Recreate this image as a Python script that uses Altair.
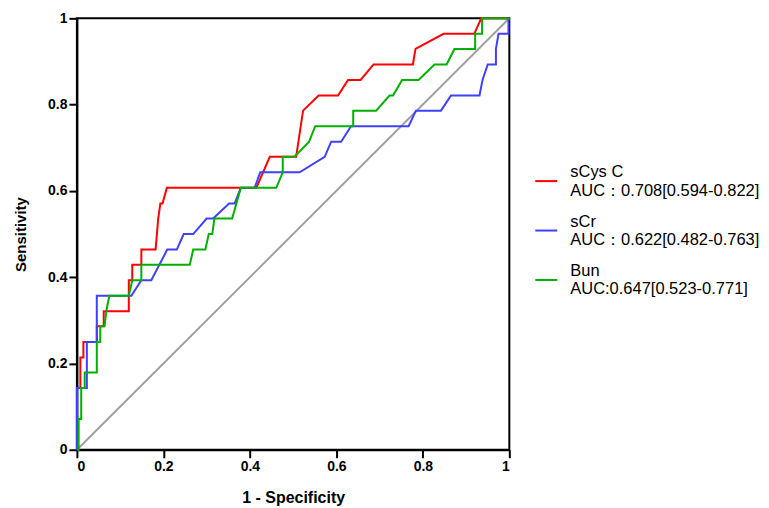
import altair as alt
import pandas as pd

names = ["sCys C", "sCr", "Bun"]
aucs = ["AUC\uff1a0.708[0.594-0.822]", "AUC\uff1a0.622[0.482-0.763]", "AUC:0.647[0.523-0.771]"]
colors = ["#FF0000", "#4040FF", "#00B000"]

red_fpr = [0, 0, 0.008, 0.008, 0.015, 0.015, 0.046, 0.046, 0.062, 0.062, 0.12, 0.12, 0.128, 0.128,
           0.149, 0.149, 0.182, 0.188, 0.193, 0.198, 0.208, 0.415, 0.446, 0.507, 0.523, 0.559, 0.604,
           0.627, 0.656, 0.686, 0.777, 0.783, 0.848, 0.919, 0.935, 1.0]
red_tpr = [0, 0.143, 0.143, 0.214, 0.214, 0.25, 0.25, 0.286, 0.286, 0.321, 0.321, 0.393, 0.393, 0.429,
           0.429, 0.464, 0.464, 0.536, 0.571, 0.571, 0.607, 0.607, 0.679, 0.679, 0.786, 0.821, 0.821,
           0.857, 0.857, 0.893, 0.893, 0.929, 0.964, 0.964, 1.0, 1.0]

blue_fpr = [0, 0, 0.023, 0.023, 0.046, 0.046, 0.126, 0.149, 0.172, 0.209, 0.231, 0.247, 0.269, 0.3,
            0.315, 0.352, 0.365, 0.379, 0.411, 0.424, 0.515, 0.573, 0.588, 0.611, 0.634, 0.767, 0.784,
            0.842, 0.865, 0.931, 0.938, 0.95, 0.969, 0.969, 0.975, 0.998, 0.998]
blue_tpr = [0, 0.143, 0.143, 0.25, 0.25, 0.357, 0.357, 0.393, 0.393, 0.464, 0.464, 0.5, 0.5, 0.536,
            0.536, 0.571, 0.571, 0.607, 0.607, 0.643, 0.643, 0.679, 0.714, 0.714, 0.75, 0.75, 0.786,
            0.786, 0.821, 0.821, 0.857, 0.893, 0.893, 0.929, 0.964, 0.964, 1.0]

green_fpr = [0, 0.004, 0.004, 0.01, 0.01, 0.018, 0.018, 0.046, 0.046, 0.054, 0.054, 0.064, 0.068,
             0.075, 0.12, 0.128, 0.149, 0.149, 0.261, 0.269, 0.297, 0.305, 0.313, 0.318, 0.359, 0.379,
             0.461, 0.476, 0.476, 0.503, 0.537, 0.551, 0.639, 0.639, 0.692, 0.723, 0.731, 0.752, 0.79,
             0.827, 0.855, 0.873, 0.921, 0.921, 0.937, 0.937, 1.0]
green_tpr = [0, 0, 0.071, 0.071, 0.143, 0.143, 0.179, 0.179, 0.25, 0.25, 0.286, 0.286, 0.321,
             0.357, 0.357, 0.393, 0.393, 0.429, 0.429, 0.464, 0.464, 0.5, 0.5, 0.536, 0.536, 0.607,
             0.607, 0.643, 0.679, 0.679, 0.714, 0.75, 0.75, 0.786, 0.786, 0.821, 0.821, 0.857, 0.857,
             0.893, 0.893, 0.929, 0.929, 0.964, 0.964, 1.0, 1.0]

ref_fpr = [0, 1]
ref_tpr = [0, 1]
ticks = [0, 0.2, 0.4, 0.6, 0.8, 1]

labels = [n + "|" + a for n, a in zip(names, aucs)]
rows = []
for lab, fpr, tpr in zip(labels, [red_fpr, blue_fpr, green_fpr], [red_tpr, blue_tpr, green_tpr]):
    for i, (x, y) in enumerate(zip(fpr, tpr)):
        rows.append({"series": lab, "fpr": x, "tpr": y, "order": i})
df = pd.DataFrame(rows)
diag = pd.DataFrame({"fpr": ref_fpr, "tpr": ref_tpr})

FONT = "Liberation Sans"
xscale = alt.Scale(domain=[0, 1], nice=False, zero=False)
yscale = alt.Scale(domain=[0, 1], nice=False, zero=False)
xaxis = alt.Axis(values=ticks, format=".1~f", title="1 - Specificity", titleFontSize=16, titlePadding=16)
yaxis = alt.Axis(values=ticks, format=".1~f", title="Sensitivity", titleFontSize=15, titlePadding=19)

diag_layer = alt.Chart(diag).mark_line(color="#A0A0A0", strokeWidth=2).encode(
    x=alt.X("fpr:Q", scale=xscale, axis=xaxis),
    y=alt.Y("tpr:Q", scale=yscale, axis=yaxis),
)

curves = alt.Chart(df).mark_line(strokeWidth=2).encode(
    x=alt.X("fpr:Q", scale=xscale, axis=xaxis),
    y=alt.Y("tpr:Q", scale=yscale, axis=yaxis),
    color=alt.Color(
        "series:N",
        scale=alt.Scale(domain=labels, range=colors),
        sort=labels,
        legend=alt.Legend(
            title=None, orient="none", legendX=458, legendY=151,
            symbolType="stroke", symbolSize=484, symbolStrokeWidth=2,
            labelFontSize=16.5, labelFont=FONT, labelOffset=12, rowPadding=14.5,
            labelBaseline="line-bottom",
            labelExpr="split(datum.label, '|')", labelLimit=400, padding=0,
            labelColor="black",
        ),
    ),
    order=alt.Order("order:Q"),
)

chart = alt.layer(diag_layer, curves).properties(
    width=433, height=432,
    padding={"left": 5, "top": 3, "right": 0, "bottom": 5},
).configure_view(
    stroke="black", strokeWidth=2
).configure_axis(
    domainColor="black", domainWidth=2, tickColor="black", tickWidth=2, tickSize=8,
    labelFont=FONT, labelFontSize=14, labelFontWeight="bold", labelColor="black", labelPadding=2,
    titleFont=FONT, titleFontWeight="bold", titleColor="black", grid=False,
)

chart.save("out.html", embed_options={"renderer": "svg", "actions": False})
